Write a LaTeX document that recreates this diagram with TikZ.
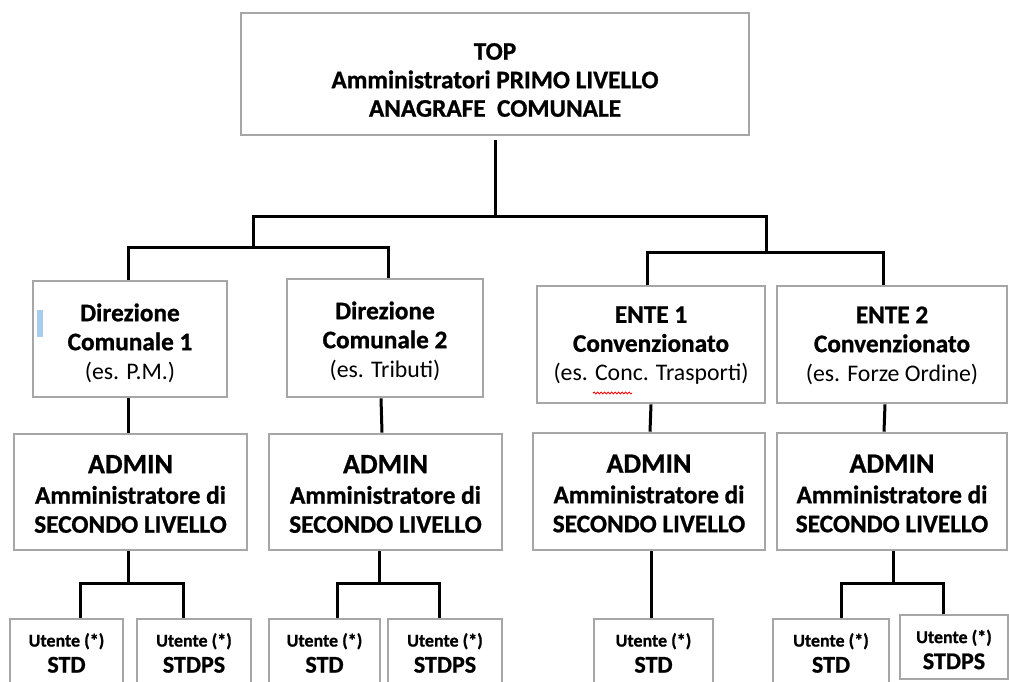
\documentclass[tikz,border=0pt]{standalone}
\usepackage{fontspec}
\setmainfont{Carlito}[BoldFeatures={FakeBold=0.9}]
\usetikzlibrary{decorations.pathmorphing}
\definecolor{boxgray}{RGB}{166,166,166}
\definecolor{cursorblue}{RGB}{168,204,238}
\begin{document}
\begin{tikzpicture}[x=1pt,y=-1pt,
  box/.style={draw=boxgray, line width=2.6pt, rectangle, inner sep=0pt},
  ubox/.style={box, minimum height=68pt},
  lbl/.style={align=center, inner sep=0pt, font=\bfseries\fontsize{25.3}{29}\selectfont},
  ulbl/.style={lbl, font=\bfseries\fontsize{24}{29}\selectfont},
  conn/.style={line width=3pt, black}]
\useasboundingbox (0,0) rectangle (1009,682);
\clip (0,0) rectangle (1009,682);
\newcommand{\rg}[1]{{\mdseries\fontsize{23.8}{29}\selectfont #1}}
\newcommand{\adm}{{\fontsize{28}{29}\selectfont ADMIN}\\[1.5pt]Amministratore di\\SECONDO LIVELLO}
\newcommand{\utente}[1]{{\fontsize{18}{20}\selectfont Utente (*)}\\[-3pt]#1}
% top
\node[box, minimum width=508pt, minimum height=122pt] (top) at (495,74) {};
\node[lbl, yshift=-6pt] (topT) at (top.center)
  {TOP\\[-0.5pt]Amministratori PRIMO LIVELLO\\[-0.5pt]ANAGRAFE\ \ COMUNALE};
% second row
\node[box, minimum width=194pt, minimum height=116pt] (D1) at (130,339) {};
\node[lbl, yshift=-4pt] (D1T) at (D1.center) {Direzione\\Comunale 1\\\rg{(es. P.M.)}};
\node[box, minimum width=196pt, minimum height=118pt] (D2) at (385,338) {};
\node[lbl, yshift=-3pt] (D2T) at (D2.center) {Direzione\\Comunale 2\\\rg{(es. Tributi)}};
\node[box, minimum width=228pt, minimum height=117pt] (E1) at (651,344.5) {};
\node[lbl, yshift=-1pt] (E1T) at (E1.center) {ENTE 1\\Convenzionato\\\rg{(es. Conc. Trasporti)}};
\node[box, minimum width=230pt, minimum height=117pt] (E2) at (892,344.5) {};
\node[lbl, yshift=-1pt] (E2T) at (E2.center) {ENTE 2\\Convenzionato\\\rg{(es. Forze Ordine)}};
% admin row
\node[box, minimum width=233pt, minimum height=116pt] (A1) at (130.5,492) {};
\node[lbl, yshift=-2pt] (A1T) at (A1.center) {\adm};
\node[box, minimum width=233pt, minimum height=116pt] (A2) at (385.5,492) {};
\node[lbl, yshift=-2pt] (A2T) at (A2.center) {\adm};
\node[box, minimum width=232pt, minimum height=117pt] (A3) at (649,491.5) {};
\node[lbl, yshift=-2pt] (A3T) at (A3.center) {\adm};
\node[box, minimum width=230pt, minimum height=117pt] (A4) at (892,491.5) {};
\node[lbl, yshift=-2pt] (A4T) at (A4.center) {\adm};
% user row
\node[ubox, minimum width=113pt] (Ua) at (66.5,653) {};
\node[ulbl] (UaT) at (66.5,653) {\utente{STD}};
\node[ubox, minimum width=114pt] (Ub) at (194,653) {};
\node[ulbl] (UbT) at (194,653) {\utente{STDPS}};
\node[ubox, minimum width=111pt] (Uc) at (324.5,653) {};
\node[ulbl] (UcT) at (324.5,653) {\utente{STD}};
\node[ubox, minimum width=114pt] (Ud) at (445,653) {};
\node[ulbl] (UdT) at (445,653) {\utente{STDPS}};
\node[ubox, minimum width=119pt] (Ue) at (653.5,653) {};
\node[ulbl] (UeT) at (653.5,653) {\utente{STD}};
\node[ubox, minimum width=116pt] (Uf) at (831,653) {};
\node[ulbl] (UfT) at (831,653) {\utente{STD}};
\node[box, minimum width=108pt, minimum height=64pt] (Ug) at (954,647) {};
\node[ulbl] (UgT) at (954,649.5) {\utente{STDPS}};
% junction coordinates
\coordinate (c1) at (253,216);
\coordinate (c2) at (766,216);
\coordinate (b1) at (253,247);
\coordinate (b2) at (766,252);
\coordinate (k1) at (128,583);
\coordinate (k2) at (379,583);
\coordinate (k4) at (893,583);
% connectors top level
\draw[conn] ([yshift=-4pt]top.south) -- (top.south |- c1);
\draw[conn] (b1) -- (c1) -- (c2) -- (b2);
\draw[conn] ([xshift=-2pt]D1.north) |- (b1) -| ([xshift=3pt]D2.north);
\draw[conn] ([xshift=-4pt]E1.north) |- (b2) -| ([xshift=-9pt]E2.north);
% second -> admin
\draw[conn] ([xshift=-2pt]D1.south) -- ([xshift=-2.5pt]A1.north);
\draw[conn] ([xshift=-4pt]D2.south) -- ([xshift=-3.5pt]A2.north);
\draw[conn] (E1.south) -- ([xshift=1pt]A3.north);
\draw[conn] ([xshift=-7pt]E2.south) -- ([xshift=-8pt]A4.north);
% admin -> users
\draw[conn] ([xshift=-2.5pt]A1.south) -- (k1);
\draw[conn] ([xshift=13.5pt]Ua.north) |- (k1) -| ([xshift=-11pt]Ub.north);
\draw[conn] ([xshift=-6.5pt]A2.south) -- (k2);
\draw[conn] ([xshift=12.5pt]Uc.north) |- (k2) -| ([xshift=-6pt]Ud.north);
\draw[conn] ([xshift=2pt]A3.south) -- ([xshift=-2.5pt]Ue.north);
\draw[conn] ([xshift=1pt]A4.south) -- (k4);
\draw[conn] ([xshift=10pt]Uf.north) |- (k4) -| ([xshift=-11pt]Ug.north);
% artefacts
\fill[cursorblue] (37,310) rectangle (43,337);
\draw[red, line width=0.8pt, decorate, decoration={snake, amplitude=1pt, segment length=3.5pt}] (593,393) -- (632,393);
\end{tikzpicture}
\end{document}
